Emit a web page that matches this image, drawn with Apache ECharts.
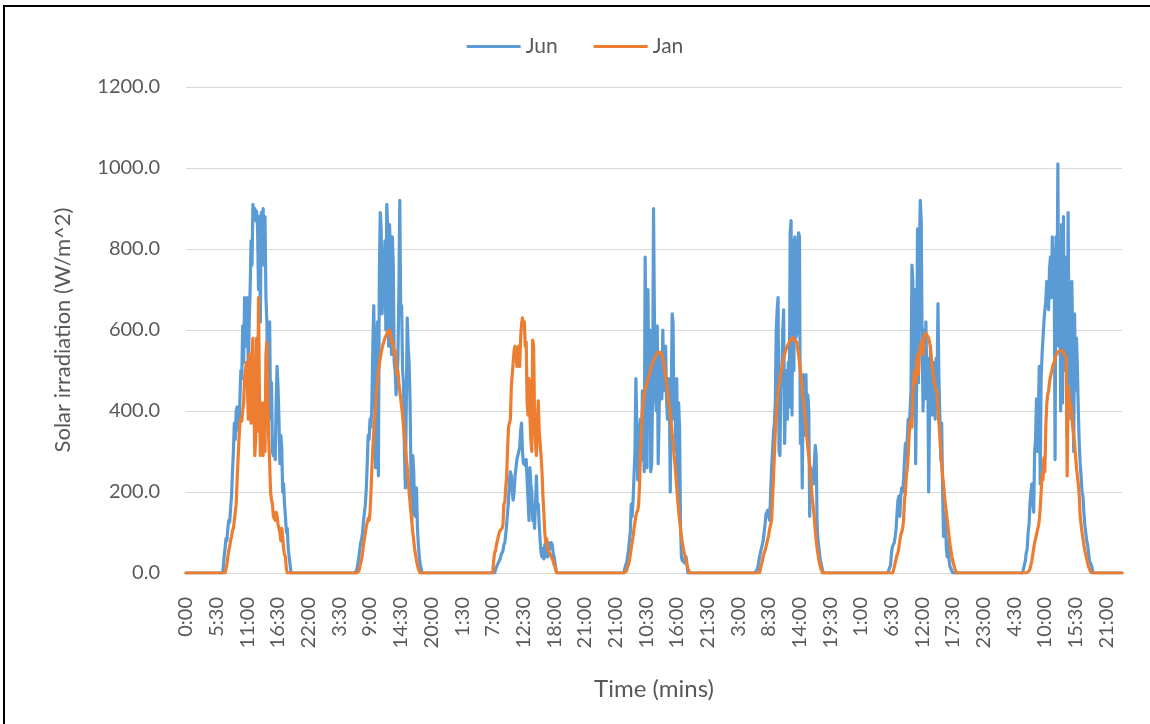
<!DOCTYPE html>
<html>
<head>
<meta charset="utf-8">
<script src="https://cdn.jsdelivr.net/npm/echarts@6/dist/echarts.min.js"></script>
<style>
  html, body { margin: 0; padding: 0; background: #ffffff; }
  #chart { position: absolute; left: 0; top: 0; width: 1150px; height: 724px; }
  #frame { position: absolute; left: 3px; top: 5px; width: 1160px; height: 740px;
           border-top: 2px solid #000; border-left: 2px solid #000; pointer-events: none; }
</style>
</head>
<body>
<div id="chart"></div>
<div id="frame"></div>
<script>
// Axis tick labels, one every 33 samples (10-minute readings)
const tickLabels = ['0:00','5:30','11:00','16:30','22:00','3:30','9:00','14:30','20:00','1:30','7:00',
  '12:30','18:00','21:00','21:00','10:30','16:00','21:30','3:00','8:30','14:00','19:30','1:00',
  '6:30','12:00','17:30','23:00','4:30','10:00','15:30','21:00'];
const pointsPerTick = 33;
const pointCount = 1008;

// Daylight readings for each day (W/m^2); night-time readings are zero
const junStarts = [40, 183, 332, 471, 614, 757, 902];
const junDay1 = [10,40,60,85,80,110,130,125,160,190,250,300,370,330,400,410,380,350,430,500,480,610,520,680,650,560,680,500,620,700,820,760,910,880,900,870,893,850,700,880,620,890,870,900,760,880,680,620,420,560,620,380,470,300,290,330,280,420,510,460,380,270,340,310,200,220,170,140,100,110,60,40,20,0];
const junDay2 = [0,10,25,40,60,75,85,100,130,150,170,210,270,340,330,380,360,420,560,660,470,260,560,620,240,740,890,850,640,700,740,820,600,910,850,560,860,790,540,830,760,520,500,440,480,530,690,920,640,660,500,470,300,210,410,630,560,520,430,250,130,290,250,150,140,210,110,70,40,20,10,0];
const junDay3 = [0,8,15,20,25,30,35,45,50,55,70,75,95,120,150,180,230,250,240,200,180,200,240,260,280,290,300,310,350,370,300,270,275,265,280,230,180,130,260,220,200,130,140,110,170,240,160,170,120,80,50,40,60,35,70,40,55,40,75,70,60,75,70,50,40,25,10,0];
const junDay4 = [0,10,20,25,40,55,80,100,170,140,180,240,300,480,370,230,360,350,380,280,450,360,250,780,540,260,700,450,600,250,270,450,900,620,440,400,610,270,390,540,520,430,600,470,450,560,430,380,480,450,200,420,640,620,380,460,300,480,190,420,360,120,40,30,35,25,30,40,20,0];
const junDay5 = [0,10,25,40,50,60,70,80,100,120,145,150,155,140,130,200,260,300,345,370,420,600,650,680,300,290,460,480,600,650,320,420,500,380,520,410,840,870,390,820,500,830,580,590,800,840,830,320,440,210,490,340,450,490,350,440,400,140,260,220,230,220,270,315,290,120,80,60,40,25,15,5,0];
const junDay6 = [0,20,50,65,70,75,90,110,150,180,190,140,190,210,200,230,280,320,280,330,380,360,400,450,760,720,390,700,270,460,850,470,800,920,870,560,400,600,430,620,480,530,200,400,560,410,390,520,480,380,530,460,665,480,390,280,370,200,90,120,150,60,40,80,30,15,10,5,0];
const junDay7 = [0,30,50,60,100,120,170,200,220,180,150,300,330,430,300,400,510,220,480,540,580,620,650,670,720,690,650,750,780,680,830,700,800,280,830,620,1010,560,800,400,860,420,880,500,780,600,340,890,570,710,380,720,580,300,640,450,580,510,400,320,270,240,200,190,150,120,100,80,70,50,30,25,20,10,0];

const janStarts = [43, 185, 330, 473, 617, 760, 906];
const janDay1 = [0,20,40,55,65,80,90,105,110,130,150,170,230,280,330,370,380,375,400,420,480,500,520,470,380,540,440,370,540,580,430,290,330,580,350,680,440,290,420,300,290,420,300,540,570,430,330,270,200,180,170,140,140,130,150,140,120,120,100,80,110,90,60,45,40,10,0];
const janDay2 = [0,5,15,25,35,50,70,85,100,115,125,135,130,150,200,260,310,350,380,410,450,470,495,515,530,545,555,565,572,580,585,590,595,598,600,592,570,575,560,540,548,520,490,500,470,450,430,410,390,360,335,310,285,260,230,200,175,150,125,100,80,60,45,30,20,10,5,0];
const janDay3 = [0,30,50,55,70,80,90,100,105,105,110,120,170,175,210,240,310,360,370,380,460,460,460,550,560,555,510,540,560,510,580,615,630,610,620,560,570,420,390,480,390,330,300,575,560,380,320,290,370,425,350,320,290,250,190,150,100,75,85,60,55,50,45,40,35,30,20,15,5,0];
const janDay4 = [0,5,15,20,30,45,60,75,90,110,125,140,150,155,170,220,300,350,400,420,440,455,460,470,480,485,495,505,510,518,525,530,535,540,543,545,545,543,545,540,530,515,500,485,470,450,430,410,395,370,345,320,295,270,240,210,180,155,130,110,90,75,60,50,40,30,20,10,5,0];
const janDay5 = [0,10,20,30,40,50,55,65,75,85,95,110,120,130,180,230,290,350,390,420,445,465,480,495,505,520,530,540,548,555,560,565,570,573,576,580,582,580,575,578,570,555,540,520,500,480,455,430,410,385,360,335,310,290,265,235,205,180,160,135,105,80,60,45,30,20,10,5,0];
const janDay6 = [0,5,15,25,35,45,50,65,80,95,100,110,130,180,200,240,260,290,340,370,380,360,440,480,500,470,525,540,490,550,560,565,575,540,585,588,592,596,590,580,570,555,530,505,490,470,460,450,445,400,370,340,300,265,240,220,190,170,150,130,110,90,70,55,40,30,20,12,5,0];
const janDay7 = [0,5,10,20,30,45,60,75,85,95,105,115,130,160,200,245,230,285,250,360,415,440,450,470,485,495,505,515,520,530,538,540,545,548,550,548,550,548,545,540,535,530,240,460,440,420,415,390,360,340,320,290,260,240,220,190,140,120,100,85,70,55,45,35,25,15,10,5,0];

// Place each day's readings into the full series; nights stay at zero
function buildSeries(starts, days) {
  const out = new Array(pointCount).fill(0);
  days.forEach((vals, d) => {
    vals.forEach((v, k) => { out[starts[d] + k] = v; });
  });
  return out;
}
const junSeries = buildSeries(junStarts, [junDay1, junDay2, junDay3, junDay4, junDay5, junDay6, junDay7]);
const janSeries = buildSeries(janStarts, [janDay1, janDay2, janDay3, janDay4, janDay5, janDay6, janDay7]);

const categories = [];
for (let i = 0; i < pointCount; i++) {
  categories.push(i % pointsPerTick === 0 ? tickLabels[i / pointsPerTick] : String(i));
}

const FONT = 'Lato, "Open Sans", sans-serif';
const TXT = '#595959';

const chart = echarts.init(document.getElementById('chart'), null, { renderer: 'canvas' });
chart.setOption({
  animation: false,
  backgroundColor: '#ffffff',
  grid: { left: 186, right: 28, top: 87, bottom: 151, containLabel: false },
  legend: {
    top: 31,
    left: 'center',
    icon: 'rect',
    itemWidth: 54,
    itemHeight: 3,
    itemGap: 36,
    textStyle: { fontFamily: FONT, fontSize: 21, color: TXT },
    data: ['Jun', 'Jan']
  },
  xAxis: {
    type: 'category',
    data: categories,
    boundaryGap: false,
    name: 'Time (mins)',
    nameLocation: 'middle',
    nameGap: 104,
    nameTextStyle: { fontFamily: FONT, fontSize: 24, color: TXT },
    axisLine: { lineStyle: { color: '#d9d9d9', width: 1 } },
    axisTick: { show: false },
    axisLabel: {
      rotate: 90,
      margin: 24,
      interval: (i) => i % pointsPerTick === 0,
      fontFamily: FONT, fontSize: 20, color: TXT
    },
    splitLine: { show: false }
  },
  yAxis: {
    type: 'value',
    min: 0,
    max: 1200,
    interval: 200,
    name: 'Solar irradiation (W/m^2)',
    nameLocation: 'middle',
    nameGap: 112,
    nameTextStyle: { fontFamily: FONT, fontSize: 22, color: TXT },
    axisLine: { show: false },
    axisTick: { show: false },
    axisLabel: {
      margin: 26,
      formatter: (v) => v.toFixed(1),
      fontFamily: FONT, fontSize: 20, color: TXT
    },
    splitLine: { lineStyle: { color: '#d9d9d9', width: 1 } }
  },
  series: [
    {
      name: 'Jun', type: 'line', data: junSeries, symbol: 'none',
      color: '#5B9BD5',
      lineStyle: { width: 3.2, color: '#5B9BD5', join: 'round', cap: 'round' }
    },
    {
      name: 'Jan', type: 'line', data: janSeries, symbol: 'none',
      color: '#ED7D31',
      lineStyle: { width: 3.2, color: '#ED7D31', join: 'round', cap: 'round' }
    }
  ]
});
</script>
</body>
</html>
